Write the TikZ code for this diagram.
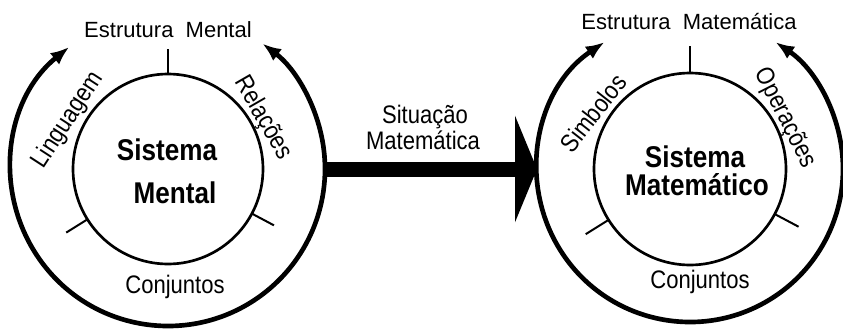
\documentclass[tikz,border=0pt]{standalone}
\usepackage{fontspec}
\setmainfont{Liberation Sans}
\newfontfamily\condfont[FakeStretch=0.87]{Liberation Sans}
\usetikzlibrary{arrows.meta}

\begin{document}
\begin{tikzpicture}[x=0.75pt,y=0.75pt,
    ring/.style={line width=3.5pt, {Latex[length=14pt,width=11pt]}-{Latex[length=14pt,width=11pt]}},
    core/.style={circle, draw, line width=2pt, inner sep=0pt},
    tick/.style={line width=1.5pt},
    topname/.style={font=\fontsize{16.5}{18}\selectfont, anchor=base},
    sysname/.style={font=\condfont\bfseries\fontsize{22.5}{24}\selectfont, anchor=base},
    arcname/.style={font=\condfont\fontsize{19}{20}\selectfont}]
  \useasboundingbox (0,0) rectangle (843,330);
  \node[core, minimum size=142.5pt] (mental) at (168,161) {};
  \node[core, minimum size=144pt] (matem) at (690,161) {};
  \draw[ring] (mental.center) ++(129:157) arc[start angle=129, end angle=413, radius=157];
  \draw[ring] (matem.center) ++(124:153) arc[start angle=124, end angle=416, radius=153];
  \foreach \a in {90,212,332} {
    \draw[tick] (mental.center) ++(\a:95) -- ++(\a:25);
    \draw[tick] (matem.center) ++(\a:96) -- ++(\a:27);
  }
  \path (mental.center) ++(157,0) coordinate (mstart);
  \path (matem.center) ++(-153,0) coordinate (mend);
  \draw[line width=11.25pt, -{Triangle[length=16.5pt,width=80pt,line width=0pt]}] (mstart) -- (mend);

  \node[topname] (estmen) at (168,293) {Estrutura\ \ Mental};
  \node[topname] (estmat) at (689,301) {Estrutura\ \ Matemática};
  \node[sysname] (sis1) at (167,170) {Sistema};
  \node[sysname] (men) at (175,127) {Mental};
  \node[sysname] (sis2) at (695,163) {Sistema};
  \node[sysname] (mat) at (697,135) {Matemático};
  \node[arcname, rotate=57] (ling) at (68,210) {Linguagem};
  \node[arcname, rotate=-60] (rel) at (263,212) {Relações};
  \node[arcname, anchor=base] (conj1) at (175,37) {Conjuntos};
  \node[arcname, rotate=52] (simb) at (593,217) {Simbolos};
  \node[arcname, rotate=-63] (oper) at (785,212) {Operações};
  \node[arcname, anchor=base] (conj2) at (700,42) {Conjuntos};
  \node[arcname, anchor=base] (sit) at (425,207) {Situação};
  \node[arcname, anchor=base] (sitmat) at (423,181) {Matemática};
\end{tikzpicture}
\end{document}
